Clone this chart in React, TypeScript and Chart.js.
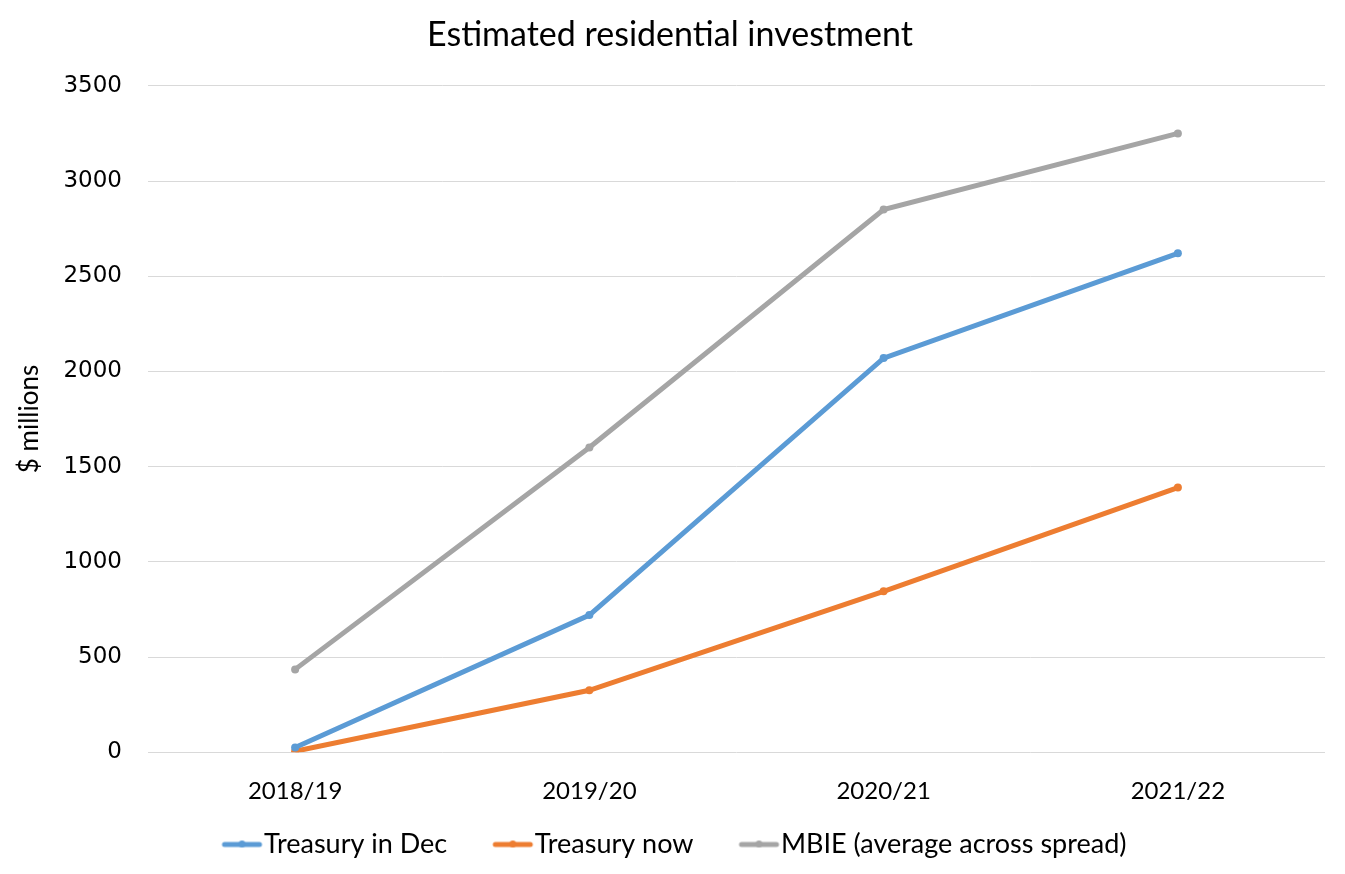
import React, { useEffect, useRef } from "react";
import { Chart, registerables } from "chart.js";

Chart.register(...registerables);

const categories = ["2018/19", "2019/20", "2020/21", "2021/22"];
const treasuryDec = [25, 720, 2070, 2620];
const treasuryNow = [5, 325, 845, 1390];
const mbie = [435, 1600, 2850, 3250];
const yTicks = [0, 500, 1000, 1500, 2000, 2500, 3000, 3500];

const seriesNames = ["Treasury in Dec", "Treasury now", "MBIE (average across spread)"];
const colors = ["#5B9BD5", "#ED7D31", "#A5A5A5"];

function makeLegendIcon(color: string): HTMLCanvasElement {
  const c = document.createElement("canvas");
  c.width = 120;
  c.height = 12;
  const ctx = c.getContext("2d")!;
  ctx.strokeStyle = color;
  ctx.lineWidth = 5;
  ctx.lineCap = "round";
  ctx.beginPath();
  ctx.moveTo(71, 6);
  ctx.lineTo(106, 6);
  ctx.stroke();
  ctx.fillStyle = color;
  ctx.beginPath();
  ctx.arc(88.5, 5.5, 3.5, 0, Math.PI * 2);
  ctx.fill();
  return c;
}

const shiftPlugin = {
  id: "shiftBlocks",
  afterLayout(chart: any) {
    if (chart.titleBlock) {
      chart.titleBlock.left += 7.5;
      chart.titleBlock.right += 7.5;
    }
    if (chart.legend) {
      chart.legend.left -= 11;
      chart.legend.right -= 11;
    }
  },
};

export default function App() {
  const ref = useRef<HTMLCanvasElement | null>(null);
  useEffect(() => {
    document.body.style.margin = "0";
    const icons = colors.map(makeLegendIcon);
    const data = [treasuryDec, treasuryNow, mbie];
    const chart = new Chart(ref.current!, {
      type: "line",
      plugins: [shiftPlugin],
      data: {
        labels: categories,
        datasets: data.map((d, i) => ({
          label: seriesNames[i],
          data: d,
          borderColor: colors[i],
          backgroundColor: colors[i],
          borderWidth: 5,
          pointRadius: 4,
          pointStyle: "circle",
          pointBackgroundColor: colors[i],
          pointBorderWidth: 0,
          tension: 0,
        })),
      },
      options: {
        animation: false,
        responsive: true,
        maintainAspectRatio: false,
        layout: { padding: { left: 0, right: 20, top: 8, bottom: 6 } },
        plugins: {
          title: {
            display: true,
            text: "Estimated residential investment",
            color: "#000",
            font: { family: "Lato", size: 34, weight: "normal" },
            padding: { top: 7, bottom: 30 },
          },
          legend: {
            position: "bottom",
            labels: {
              color: "#000",
              font: { family: "Lato", size: 27 },
              usePointStyle: true,
              pointStyleWidth: 74,
              boxHeight: 12,
              padding: 0,
              generateLabels: (ch: any) =>
                ch.data.datasets.map((ds: any, i: number) => ({
                  text: ds.label,
                  pointStyle: icons[i],
                  fillStyle: colors[i],
                  strokeStyle: colors[i],
                  lineWidth: 0,
                  hidden: false,
                  datasetIndex: i,
                  fontColor: "#000",
                })),
            },
          },
          tooltip: { enabled: false },
        },
        scales: {
          x: {
            offset: true,
            grid: { display: false, drawTicks: false },
            border: { display: false },
            ticks: {
              color: "#000",
              font: { family: "Lato", size: 24 },
              padding: 25,
            },
          },
          y: {
            min: 0,
            max: 3500,
            afterBuildTicks: (axis: any) => {
              axis.ticks = yTicks.map((v) => ({ value: v }));
            },
            afterFit: (axis: any) => {
              axis.width = 148;
            },
            grid: { color: "#D9D9D9", lineWidth: 1, drawTicks: false },
            border: { display: false },
            ticks: {
              color: "#000",
              font: { family: "DejaVu Sans", size: 23 },
              padding: 26,
              callback: (v: any) => String(v),
            },
            title: {
              display: true,
              text: "$ millions",
              color: "#000",
              font: { family: "Lato", size: 26 },
              padding: { top: 14, bottom: 0 },
            },
          },
        },
      },
    });
    return () => chart.destroy();
  }, []);
  return (
    <div style={{ position: "fixed", left: 0, top: 0, width: 1345, height: 874, background: "#fff" }}>
      <canvas ref={ref} />
    </div>
  );
}
